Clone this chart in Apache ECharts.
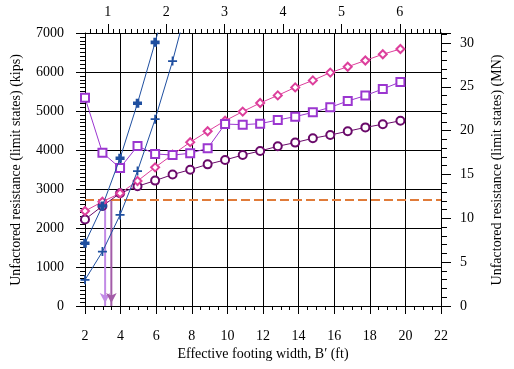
<!DOCTYPE html>
<html><head><meta charset="utf-8">
<script src="https://cdn.jsdelivr.net/npm/echarts@6/dist/echarts.min.js"></script>
<style>html,body{margin:0;padding:0;background:#fff}#c{width:514px;height:369px}</style>
</head><body><div id="c"></div>
<script>
// Effective footing width B' (ft) for each computed point (2 ft, then 0.3 m steps)
const widthFt = [2.00, 2.98, 3.97, 4.95, 5.94, 6.92, 7.91, 8.89, 9.87, 10.86, 11.84, 12.83, 13.81, 14.80, 15.78, 16.76, 17.75, 18.73, 19.72];
// Unfactored resistance (kips)
const blueBold = [1610, 2565, 3790, 5200, 6760, 8400];
const bluePlus = [670, 1395, 2335, 3460, 4790, 6280, 7990];
const squares  = [5340, 3930, 3540, 4100, 3900, 3870, 3915, 4045, 4665, 4650, 4675, 4770, 4855, 4965, 5095, 5255, 5395, 5565, 5745];
const diamonds = [2435, 2675, 2890, 3205, 3555, 3880, 4200, 4480, 4750, 4985, 5205, 5400, 5605, 5785, 5985, 6135, 6295, 6455, 6590];
const circles  = [2220, 2565, 2890, 3070, 3215, 3370, 3495, 3632, 3745, 3870, 3975, 4095, 4190, 4300, 4385, 4480, 4580, 4660, 4750];
const criterionKips = 2720;
const arrowFt = [3.13, 3.48];
// Axis ranges, tick labels and titles
const X_MIN = 2, X_MAX = 22, X_STEP = 2;
const Y_MAX = 7000, Y_STEP = 1000;
const MN_STEP = 5;
const FT_PER_M = 3.28084, KIPS_PER_MN = 224.809;
const topTicksM = [1, 2, 3, 4, 5, 6];
const titleX = 'Effective footing width, B\u2032 (ft)';
const titleYLeft = 'Unfactored resistance (limit states) (kips)';
const titleYRight = 'Unfactored resistance (limit states) (MN)';

const FONT = 'Liberation Serif';
const mMin = X_MIN / FT_PER_M, mMax = X_MAX / FT_PER_M;
const mnMax = Y_MAX / KIPS_PER_MN;

function pts(vals) { return vals.map((v, i) => [widthFt[i], v]); }
function axisBlack() { return { show: true, onZero: false, lineStyle: { color: '#000', width: 1 } }; }
function lbl(extra) { return Object.assign({ show: true, color: '#000', fontFamily: FONT, fontSize: 14, formatter: v => String(v) }, extra || {}); }
function tick(len, extra) { return Object.assign({ show: true, length: len, lineStyle: { color: '#000', width: 1 } }, extra || {}); }
const titleFont = '14px "Liberation Serif"';

function arrowSeries(x, color) {
  return {
    type: 'line', xAxisIndex: 0, yAxisIndex: 0, z: 4,
    lineStyle: { color: color, width: 2 }, itemStyle: { color: color },
    data: [
      { value: [x, criterionKips], symbol: 'none' },
      { value: [x, 0], symbol: 'arrow', symbolSize: [8, 10], symbolRotate: 180, symbolOffset: [0, -3] }
    ]
  };
}

const chart = echarts.init(document.getElementById('c'));
chart.setOption({
  animation: false,
  grid: { left: 85, right: 73, top: 33, bottom: 63 },
  graphic: [
    { type: 'text', x: 263, y: 354, z: 100, style: { text: titleX, font: titleFont, fill: '#000', align: 'center', verticalAlign: 'middle' } },
    { type: 'text', x: 16, y: 170, rotation: Math.PI / 2, z: 100, style: { text: titleYLeft, font: titleFont, fill: '#000', align: 'center', verticalAlign: 'middle' } },
    { type: 'text', x: 497, y: 170, rotation: Math.PI / 2, z: 100, style: { text: titleYRight, font: titleFont, fill: '#000', align: 'center', verticalAlign: 'middle' } }
  ],
  xAxis: [
    { type: 'value', position: 'bottom', min: X_MIN, max: X_MAX, interval: X_STEP,
      axisLine: axisBlack(), axisTick: tick(8),
      minorTick: tick(4, { splitNumber: 4 }),
      splitLine: { show: true, lineStyle: { color: '#000', width: 1 } },
      axisLabel: lbl({ margin: 23 }) },
    { type: 'value', position: 'top', min: mMin, max: mMax,
      axisLine: axisBlack(),
      axisTick: tick(9, { customValues: topTicksM }),
      minorTick: tick(4, { splitNumber: 10 }),
      axisLabel: lbl({ margin: 14, customValues: topTicksM }),
      splitLine: { show: false } }
  ],
  yAxis: [
    { type: 'value', position: 'left', min: 0, max: Y_MAX, interval: Y_STEP,
      axisLine: axisBlack(), axisTick: tick(9),
      minorTick: tick(5, { splitNumber: 10 }),
      splitLine: { show: true, lineStyle: { color: '#000', width: 1 } },
      axisLabel: lbl({ margin: 21 }) },
    { type: 'value', position: 'right', min: 0, max: mnMax, interval: MN_STEP,
      axisLine: axisBlack(),
      axisTick: tick(10),
      minorTick: tick(6, { splitNumber: 5 }),
      axisLabel: lbl({ margin: 19, showMaxLabel: false }),
      splitLine: { show: false } }
  ],
  series: [
    { type: 'line', xAxisIndex: 0, yAxisIndex: 0, data: [], symbol: 'none',
      markLine: { silent: true, symbol: 'none', label: { show: false },
        lineStyle: { color: '#e07b39', type: [9, 4], width: 2 },
        data: [{ yAxis: criterionKips }] } },
    arrowSeries(arrowFt[0], '#c28be6'),
    arrowSeries(arrowFt[1], '#a35ca8'),
    { type: 'line', xAxisIndex: 0, yAxisIndex: 0, data: pts(circles), z: 5,
      symbol: 'emptyCircle', symbolSize: 8,
      lineStyle: { color: '#6a0a6a', width: 1 }, itemStyle: { color: '#6a0a6a', borderWidth: 1.5 } },
    { type: 'line', xAxisIndex: 0, yAxisIndex: 0, data: pts(diamonds), z: 5,
      symbol: 'emptyDiamond', symbolSize: 8,
      lineStyle: { color: '#dd3f9c', width: 1 }, itemStyle: { color: '#dd3f9c', borderWidth: 1.3 } },
    { type: 'line', xAxisIndex: 0, yAxisIndex: 0, data: pts(squares), z: 5,
      symbol: 'emptyRect', symbolSize: 8,
      lineStyle: { color: '#9b36d0', width: 1 }, itemStyle: { color: '#9b36d0', borderWidth: 1.5 } },
    { type: 'line', xAxisIndex: 0, yAxisIndex: 0, data: pts(bluePlus), z: 6,
      symbol: 'path://M4,0 h2 v4 h4 v2 h-4 v4 h-2 v-4 h-4 v-2 h4 z', symbolSize: 9,
      lineStyle: { color: '#1f4fa0', width: 1 }, itemStyle: { color: '#1f4fa0' } },
    { type: 'line', xAxisIndex: 0, yAxisIndex: 0, data: pts(blueBold), z: 6,
      symbol: 'path://M3,0 h4 v3 h3 v4 h-3 v3 h-4 v-3 h-3 v-4 h3 z', symbolSize: 9,
      lineStyle: { color: '#1f4fa0', width: 1 }, itemStyle: { color: '#1f4fa0' } }
  ]
});
</script></body></html>
